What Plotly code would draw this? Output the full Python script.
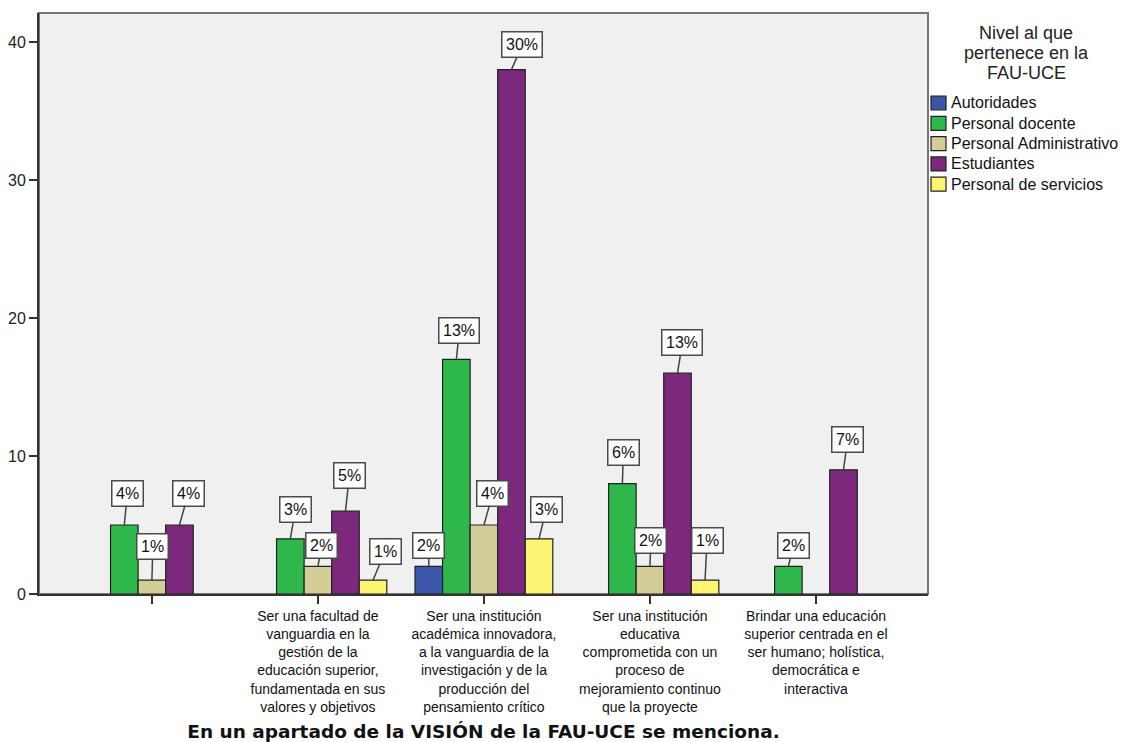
import math
import plotly.graph_objects as go

# Categories (first group has no text in the source questionnaire)
categories = [
    "",
    "Ser una facultad de<br>vanguardia en la<br>gestión de la<br>educación superior,<br>fundamentada en sus<br>valores y objetivos",
    "Ser una institución<br>académica innovadora,<br>a la vanguardia de la<br>investigación y de la<br>producción del<br>pensamiento crítico",
    "Ser una institución<br>educativa<br>comprometida con un<br>proceso de<br>mejoramiento continuo<br>que la proyecte",
    "Brindar una educación<br>superior centrada en el<br>ser humano; holística,<br>democrática e<br>interactiva",
]

# Counts per respondent group (None = no answers in that group)
autoridades = [None, None, 2, None, None]
personal_docente = [5, 4, 17, 8, 2]
personal_administrativo = [1, 2, 5, 2, None]
estudiantes = [5, 6, 38, 16, 9]
personal_servicios = [None, 1, 4, 1, None]

series_names = [
    "Autoridades",
    "Personal docente",
    "Personal Administrativo",
    "Estudiantes",
    "Personal de servicios",
]
series_values = [autoridades, personal_docente, personal_administrativo,
                 estudiantes, personal_servicios]
series_colors = ["#3B56A9", "#2EB74A", "#D3CE97", "#7B287D", "#FBF571"]

y_ticks = [0, 10, 20, 30, 40]

legend_title_lines = ["Nivel al que", "pertenece en la", "FAU-UCE"]

# Pixel nudges (dx, dy) of each callout box relative to its bar top
label_nudge = {
    "Autoridades": [None, None, (0, -21), None, None],
    "Personal docente": [(3, -32), (5, -29), (3, -29), (1, -31), (5, -21)],
    "Personal Administrativo": [(1, -34), (4, -21), (9, -32), (1, -26), None],
    "Estudiantes": [(9, -32), (4, -36), (11, -25), (5, -31), (4, -30)],
    "Personal de servicios": [None, (12, -29), (7, -29), (2, -40), None],
}

total = sum(v for vals in series_values for v in vals if v is not None)

SANS = "Liberation Sans, Arial, sans-serif"
W, H = 1122, 742
L, R, T, B = 39, 194, 13, 148
plot_w = W - L - R
plot_h = H - T - B
BARGAP = 0.17
n_series = len(series_names)
slot = (1 - BARGAP) / n_series
x_pos = list(range(len(categories)))

fig = go.Figure()
for name, vals, color in zip(series_names, series_values, series_colors):
    fig.add_trace(go.Bar(
        x=x_pos, y=vals, name=name,
        marker=dict(color=color, line=dict(color="#222222", width=1.2)),
        showlegend=False,
    ))

# Percentage callouts
annotations = []
for i, (name, vals) in enumerate(zip(series_names, series_values)):
    for k, v in enumerate(vals):
        if v is None:
            continue
        pct = math.floor(v * 100 / total + 0.5)
        dx, dy = label_nudge[name][k]
        annotations.append(dict(
            x=k + (i - (n_series - 1) / 2) * slot, y=v, xref="x", yref="y",
            text=f"{pct}%", showarrow=True, arrowhead=0, arrowwidth=1.5,
            arrowcolor="#444444", ax=dx, ay=dy, standoff=0,
            bgcolor="white", bordercolor="#4a4a4a", borderwidth=1.5,
            borderpad=3.5,
            font=dict(family=SANS, size=16, color="#111111"),
        ))


def px_x(px):
    return (px - L) / plot_w


def px_y(py):
    return (H - B - py) / plot_h


# Legend drawn in the right margin
for j, line in enumerate(legend_title_lines):
    annotations.append(dict(
        x=px_x(1026), y=px_y(33 + j * 20), xref="paper", yref="paper",
        text=line, showarrow=False, xanchor="center", yanchor="middle",
        font=dict(family=SANS, size=18, color="#222222"),
    ))
shapes = []
for j, (name, color) in enumerate(zip(series_names, series_colors)):
    cy = 103 + j * 20.3
    shapes.append(dict(
        type="rect", xref="paper", yref="paper",
        x0=px_x(931), x1=px_x(946), y0=px_y(cy + 7), y1=px_y(cy - 7),
        fillcolor=color, line=dict(color="#222222", width=1.2),
    ))
    annotations.append(dict(
        x=px_x(949), y=px_y(cy), xref="paper", yref="paper", text=name,
        showarrow=False, xanchor="left", yanchor="middle",
        font=dict(family=SANS, size=16, color="#111111"),
    ))

# Plot frame (top/right edges)
shapes.append(dict(
    type="rect", xref="paper", yref="paper", x0=0, x1=1, y0=0, y1=1,
    line=dict(color="#777777", width=2), layer="below",
))

fig.update_layout(
    width=W, height=H,
    margin=dict(l=L, r=R, t=T, b=B, autoexpand=False),
    paper_bgcolor="white", plot_bgcolor="#F0F0F0",
    barmode="group", bargap=BARGAP, bargroupgap=0,
    showlegend=False,
    title=dict(
        text="En un apartado de la VISIÓN de la FAU-UCE se menciona.",
        x=0.5, xref="paper", y=1 - 732 / H, yref="container",
        xanchor="center", yanchor="middle",
        font=dict(family="DejaVu Sans, Verdana, sans-serif", size=18.5,
                  color="#111111", weight="bold"),
    ),
    annotations=annotations,
    shapes=shapes,
    font=dict(family=SANS, color="#222222"),
)

fig.update_xaxes(
    range=[-0.68, 4.675], tickmode="array", tickvals=x_pos,
    ticktext=categories, ticks="outside", ticklen=8, tickwidth=1.5,
    tickcolor="#333333", showline=True, linecolor="#333333", linewidth=2,
    showgrid=False, zeroline=False, tickangle=0,
    tickfont=dict(family=SANS, size=14, color="#111111"),
)
fig.update_yaxes(
    range=[0, 42.1], tickmode="array", tickvals=y_ticks,
    ticks="outside", ticklen=8, tickwidth=1.5, tickcolor="#333333",
    showline=True, linecolor="#333333", linewidth=2,
    showgrid=False, zeroline=False,
    tickfont=dict(family=SANS, size=16, color="#222222"),
)

fig.write_html("out.html")
